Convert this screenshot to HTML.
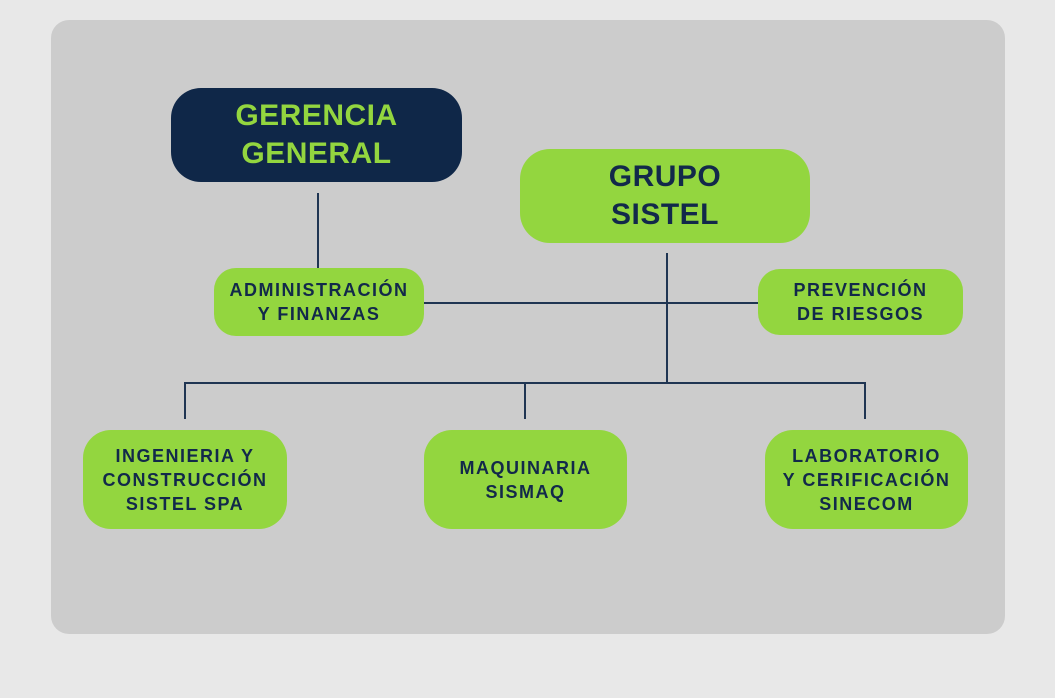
<!DOCTYPE html>
<html><head><meta charset="utf-8"><style>
body{margin:0;width:1055px;height:698px;background:#e8e8e8;position:relative;overflow:hidden;font-family:"Liberation Sans",sans-serif;font-weight:bold}
.panel{position:absolute;left:51px;top:20px;width:954px;height:614px;background:#cccccc;border-radius:18px}
.b{position:absolute;display:flex;align-items:center;justify-content:center;text-align:center;background:#93d63f;color:#12294a;box-sizing:border-box;font-size:18px;line-height:24px;letter-spacing:1.5px}
.l{position:absolute;background:#1f3552}
</style></head><body>
<div class="panel"></div>
<div class="l" style="left:317px;top:193px;width:2px;height:76px"></div>
<div class="l" style="left:666px;top:253px;width:2px;height:131px"></div>
<div class="l" style="left:424px;top:302px;width:334px;height:2px"></div>
<div class="l" style="left:184px;top:382px;width:682px;height:2px"></div>
<div class="l" style="left:184px;top:382px;width:2px;height:37px"></div>
<div class="l" style="left:524px;top:382px;width:2px;height:37px"></div>
<div class="l" style="left:864px;top:382px;width:2px;height:37px"></div>
<div class="b" style="left:171px;top:88px;width:291px;height:94px;border-radius:30px;background:#0f2748;color:#93d63f;font-size:30px;line-height:38px;letter-spacing:0.5px">GERENCIA<br>GENERAL</div>
<div class="b" style="left:520px;top:149px;width:290px;height:94px;border-radius:30px;font-size:30px;line-height:38px;letter-spacing:0.5px">GRUPO<br>SISTEL</div>
<div class="b" style="left:214px;top:268px;width:210px;height:68px;border-radius:22px">ADMINISTRACIÓN<br>Y FINANZAS</div>
<div class="b" style="left:758px;top:269px;width:205px;height:66px;border-radius:22px">PREVENCIÓN<br>DE RIESGOS</div>
<div class="b" style="left:83px;top:430px;width:204px;height:99px;border-radius:28px">INGENIERIA Y<br>CONSTRUCCIÓN<br>SISTEL SPA</div>
<div class="b" style="left:424px;top:430px;width:203px;height:99px;border-radius:28px">MAQUINARIA<br>SISMAQ</div>
<div class="b" style="left:765px;top:430px;width:203px;height:99px;border-radius:28px">LABORATORIO<br>Y CERIFICACIÓN<br>SINECOM</div>
</body></html>
